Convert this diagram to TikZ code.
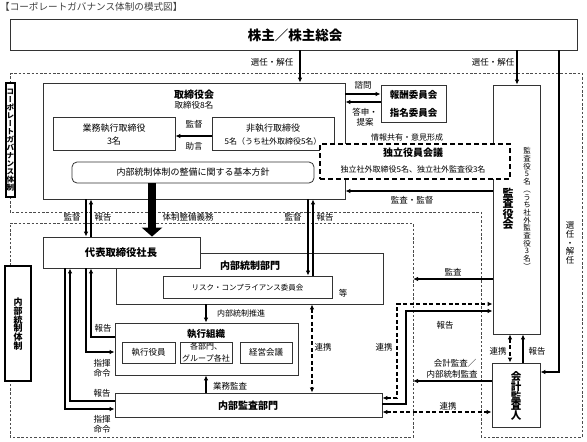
\documentclass[tikz,border=0pt]{standalone}
\usepackage{fontspec}
\setmainfont{Noto Sans CJK JP}
\newfontfamily\jpv{Noto Sans CJK JP}[RawFeature=+vert]
\usetikzlibrary{arrows.meta,fit,calc}
\tikzset{
  box/.style={draw=black!80, line width=0.8pt, fill=white, inner sep=0pt},
  lblbox/.style={draw=black, line width=1.5pt, fill=white, inner sep=0pt},
  arr/.style={line width=1.3pt, -{Latex[length=5pt,width=4.5pt]}},
  darr/.style={line width=1.3pt, dash pattern=on 4pt off 2.5pt, {Latex[length=5pt,width=4.5pt]}-{Latex[length=5pt,width=4.5pt]}},
  region/.style={draw=black!70, line width=0.8pt, dash pattern=on 2.5pt off 1.8pt},
  lbl/.style={font=\fontsize{8.5}{9}\selectfont, inner sep=0pt},
  sml/.style={font=\fontsize{8}{9}\selectfont, inner sep=0pt},
  ttl/.style={font=\bfseries\fontsize{10}{11}\selectfont, inner sep=0pt},
  vtxt/.style={align=center, inner sep=0pt, execute at begin node={\lineskiplimit=-50pt\lineskip=0pt}},
}
\begin{document}
\begin{tikzpicture}[x=1pt,y=-1pt]
\useasboundingbox[fill=white] (0,0) rectangle (587,442);

% regions
\draw[region] (10,73) -- (582,73) -- (582,437) -- (481,437) -- (481,212) -- (10,212) -- cycle;
\draw[region] (10,223) -- (413,223) -- (413,437) -- (10,437) -- cycle;

% title
\node[anchor=west, font=\fontsize{9.6}{10}\selectfont, text=black!75, inner sep=0pt] (title) at (0,7) {【コーポレートガバナンス体制の模式図】};

% shareholders
\node[box, fit={(10,19)(577,50)}] (sh) {};
\node[font=\bfseries\fontsize{13.5}{14}\selectfont, inner sep=0pt] (shT) at (295,35) {株主／株主総会};

% board
\node[box, fit={(43,83)(345,199)}] (board) {};
\node[ttl] (boardT) at (194,95) {取締役会};
\node[lbl] (boardN) at (194,105.5) {取締役8名};
\node[box, fit={(53,117)(175,150)}] (exec) {};
\node[lbl, font=\fontsize{9}{10}\selectfont] (execT) at (114,128) {業務執行取締役};
\node[lbl, font=\fontsize{9}{10}\selectfont] (execN) at (114,141) {3名};
\node[box, fit={(212,117)(334,150)}] (nonexec) {};
\node[lbl, font=\fontsize{9}{10}\selectfont] (nonexecT) at (273,128) {非執行取締役};
\node[sml] (nonexecN) at (273,141) {5名（うち社外取締役5名）};
\node[box, rounded corners=5pt, fit={(72,162)(314,183)}] (policy) {};
\node[lbl, font=\fontsize{9}{10}\selectfont] (policyT) at (193,172.5) {内部統制体制の整備に関する基本方針};

% committees
\node[box, fit={(381,85)(446,122)}] (comm) {};
\node[ttl, font=\bfseries\fontsize{9.5}{10}\selectfont] (comm1) at (413.5,95) {報酬委員会};
\node[ttl, font=\bfseries\fontsize{9.5}{10}\selectfont] (comm2) at (413.5,113) {指名委員会};

% audit board
\node[box, fit={(493,85)(540,334)}] (kansa) {};
\node[vtxt, font=\jpv\bfseries\fontsize{11}{10.5}\selectfont] (kansaT) at (508,209) {監\\査\\役\\会};
\node[vtxt, font=\jpv\fontsize{7.5}{7.7}\selectfont] (kansaN) at (527,208.5) {監\\査\\役\\5\\名\\（\\う\\ち\\社\\外\\監\\査\\役\\3\\名\\）};

% independent officers meeting
\node[draw, fill=white, line width=1.4pt, dash pattern=on 5pt off 3pt, inner sep=0pt, fit={(320,144)(510,179)}] (indep) {};
\node[ttl] (indepT) at (413,153) {独立役員会議};
\node[sml] (indepN) at (413,169) {独立社外取締役5名、独立社外監査役3名};

% internal control dept, president
\node[box, fit={(116,253)(383,304)}] (icd) {};
\node[ttl] (icdT) at (250,265.5) {内部統制部門};
\node[box, fit={(163,276)(332,298)}] (risk) {};
\node[lbl, font=\fontsize{7.5}{8}\selectfont] (riskT) at (247.5,288) {リスク・コンプライアンス委員会};
\node[lbl] (etc) at (343,293) {等};
\node[box, fit={(43,237)(200,268)}] (pres) {};
\node[ttl, font=\bfseries\fontsize{10.3}{11}\selectfont] (presT) at (121,253) {代表取締役社長};

% execution organisation
\node[box, fit={(115,323)(298,375)}] (exo) {};
\node[ttl, font=\bfseries\fontsize{9.5}{10}\selectfont] (exoT) at (206,334) {執行組織};
\node[box, fit={(122,342)(175,363)}] (yaku) {};
\node[lbl] (yakuT) at (148.5,352.5) {執行役員};
\node[box, fit={(180,342)(232,363)}] (bumon) {};
\node[sml, align=center, font=\fontsize{8}{12}\selectfont] (bumonT) at (206,352) {各部門、\\グループ各社};
\node[box, fit={(240,342)(292,363)}] (keiei) {};
\node[lbl] (keieiT) at (266,352.5) {経営会議};

% internal audit dept
\node[box, fit={(115,393)(382,417)}] (iad) {};
\node[ttl] (iadT) at (248,406) {内部監査部門};

% external auditor
\node[box, fit={(492,363)(540,427)}] (ext) {};
\node[vtxt, font=\jpv\bfseries\fontsize{10.5}{9.8}\selectfont] (extT) at (516,396) {会\\計\\監\\査\\人};

% side labels
\node[lblbox, fit={(6,83)(15,197)}] (cgl) {};
\node[vtxt, font=\jpv\bfseries\fontsize{7.6}{8}\selectfont] (cglT) at (10.5,140) {コ\\ー\\ポ\\レ\\ー\\ト\\ガ\\バ\\ナ\\ン\\ス\\体\\制};
\node[lblbox, fit={(5,266)(31,381)}] (icl) {};
\node[vtxt, font=\jpv\bfseries\fontsize{9}{8.8}\selectfont] (iclT) at (18,324) {内\\部\\統\\制\\体\\制};

% free ends on the region border
\coordinate (kansaEnd) at (413,279);
\coordinate (extEnd) at (413,381);

% connectors
\draw[arr] (sh.south -| 300,0) -- (board.north -| 300,0);
\draw[arr] (sh.south -| 517,0) -- (kansa.north -| 517,0);
\draw[arr] (sh.south -| 559,0) |- (ext.east |- 0,372);
\draw[arr] (nonexec.west |- 0,136) -- (exec.east |- 0,136);
\draw[arr] (board.east |- 0,94) -- (comm.west |- 0,94);
\draw[arr] (comm.west |- 0,102) -- (board.east |- 0,102);
\draw[arr] (kansa.west |- 0,191) -- (board.east |- 0,191);
\draw[line width=8pt, -{Triangle[width=20pt,length=9pt]}] (policy.south -| 152,0) -- (pres.north -| 152,0);
\draw[arr] (board.south -| 86,0) -- (pres.north -| 86,0);
\draw[arr] (pres.north -| 91,0) -- (board.south -| 91,0);
\draw[arr] (board.south -| 308,0) -- (risk.north -| 308,0);
\draw[arr] (risk.north -| 313,0) -- (board.south -| 313,0);
\draw[arr] (kansa.west |- kansaEnd) -- (kansaEnd);
\draw[arr] (icd.south -| 206,0) -- (exo.north -| 206,0);
\draw[arr] (iad.north -| 206,0) -- (exo.south -| 206,0);
\draw[darr] (icd.south -| 312,0) -- (iad.north -| 312,0);
\draw[arr] (exo.west |- 0,337) -| (pres.south -| 91,0);
\draw[arr] (pres.south -| 86,0) |- (exo.west |- 0,352);
\draw[arr] (iad.west |- 0,401) -| (pres.south -| 70,0);
\draw[arr] (pres.south -| 65,0) |- (iad.west |- 0,409);
\draw[arr] (iad.east |- 0,404) -- (406,404) -- (406,311) -- (kansa.west |- 0,311);
\draw[darr] (iad.east |- 0,398) -- (397,398) -- (397,304) -- (kansa.west |- 0,304);
\draw[darr] (iad.east |- 0,412) -- (ext.west |- 0,412);
\draw[arr] (ext.west |- extEnd) -- (extEnd);
\draw[darr] (kansa.south -| 510,0) -- (ext.north -| 510,0);
\draw[arr] (ext.north -| 523,0) -- (kansa.south -| 523,0);

% connector labels
\node[lbl] at (272,62) {選任・解任};
\node[lbl] at (493,62) {選任・解任};
\node[vtxt, font=\jpv\fontsize{8.5}{8.6}\selectfont] at (570,243) {選\\任\\・\\解\\任};
\node[lbl] at (194,124) {監督};
\node[lbl] at (194,146) {助言};
\node[lbl] at (363,85) {諮問};
\node[lbl] at (365,112) {答申・};
\node[lbl] at (365,122) {提案};
\node[sml] at (407,137) {情報共有・意見形成};
\node[lbl] at (412,200) {監査・監督};
\node[lbl] at (72,217) {監督};
\node[lbl] at (103,217) {報告};
\node[lbl] at (188,217) {体制整備義務};
\node[lbl] at (293,217) {監督};
\node[lbl] at (325,217) {報告};
\node[lbl] at (453,272) {監査};
\node[sml] at (241,313) {内部統制推進};
\node[lbl] at (103,328) {報告};
\node[lbl] at (102,363) {指揮};
\node[lbl] at (102,373) {命令};
\node[lbl] at (230,386) {業務監査};
\node[lbl] at (102,393) {報告};
\node[lbl] at (102,419) {指揮};
\node[lbl] at (102,429) {命令};
\node[lbl] at (323,347) {連携};
\node[lbl] at (384,347) {連携};
\node[lbl] at (445,325) {報告};
\node[lbl] at (498,351) {連携};
\node[lbl] at (537,351) {報告};
\node[lbl] at (455,363) {会計監査／};
\node[lbl] at (452,374) {内部統制監査};
\node[lbl] at (448,406) {連携};
\end{tikzpicture}
\end{document}
